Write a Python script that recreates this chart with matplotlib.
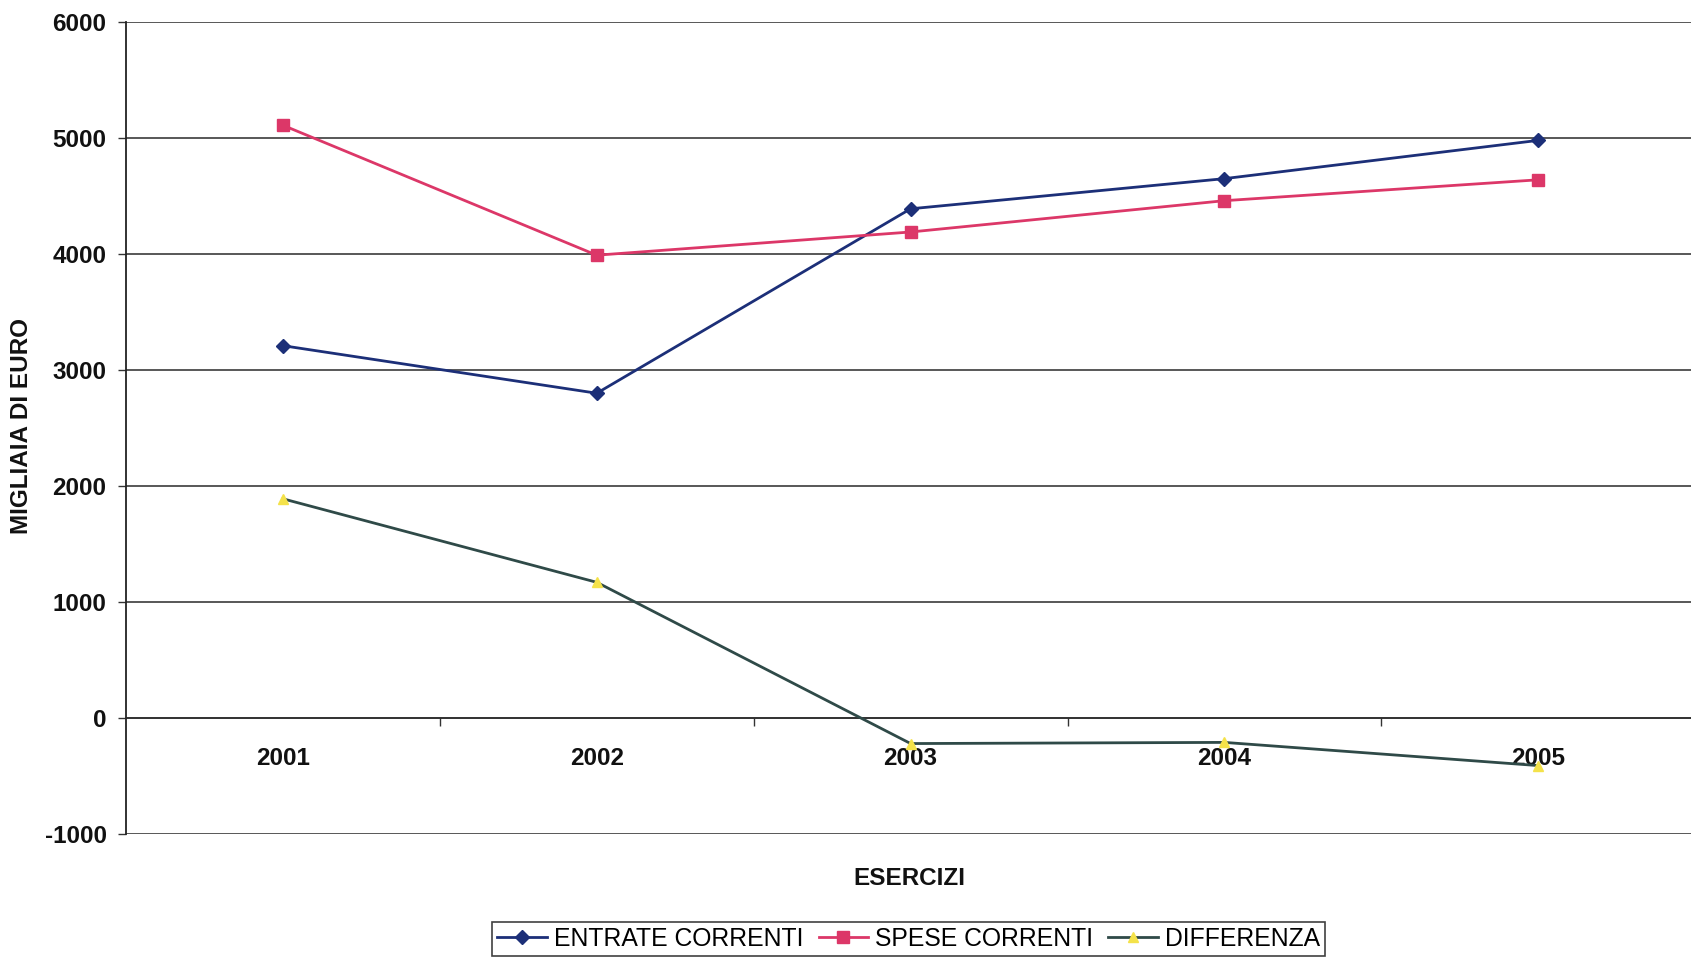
import matplotlib
matplotlib.use('Agg')
import matplotlib.pyplot as plt
from matplotlib.ticker import FixedLocator

plt.rcParams['font.family'] = ['Liberation Sans', 'DejaVu Sans']
plt.rcParams['axes.unicode_minus'] = False

anni = ['2001', '2002', '2003', '2004', '2005']
entrate = [3210, 2800, 4390, 4650, 4980]
spese = [5110, 3990, 4190, 4460, 4640]
differenza = [1890, 1170, -220, -210, -410]
yticks = [-1000, 0, 1000, 2000, 3000, 4000, 5000, 6000]

fig = plt.figure(figsize=(16.91, 9.58), dpi=100)
ax = fig.add_axes([0.0745, 0.1294, 0.928, 0.8476])

x = list(range(1, len(anni) + 1))
ax.plot(x, entrate, color='#1c2f78', lw=2.0, marker='D', ms=7.5,
        label='ENTRATE CORRENTI', zorder=3)
ax.plot(x, spese, color='#dc3768', lw=2.0, marker='s', ms=9,
        label='SPESE CORRENTI', zorder=3)
ax.plot(x, differenza, color='#2f4a48', lw=2.0, marker='^', ms=7.5,
        mfc='#f4e24a', mec='#f4e24a', label='DIFFERENZA', zorder=3)

ax.set_xlim(0.5, len(anni) + 0.5)
ax.set_ylim(-1000, 6000)

# horizontal gridlines, category axis sits on the zero line
ax.set_yticks(yticks)
ax.yaxis.grid(True, color='#2a2a2a', lw=1.1)
ax.set_axisbelow(True)
for s in ['top', 'right']:
    ax.spines[s].set_visible(False)
ax.spines['left'].set_color('#222222')
ax.spines['left'].set_linewidth(1.3)
ax.spines['bottom'].set_position(('data', 0))
ax.spines['bottom'].set_color('#2a2a2a')
ax.spines['bottom'].set_linewidth(1.1)

ax.set_xticks(x)
ax.set_xticklabels(anni)
ax.xaxis.set_minor_locator(FixedLocator([i + 0.5 for i in x[:-1]]))
ax.tick_params(axis='x', which='major', length=0, pad=21,
               labelsize=17.5, labelcolor='#111111')
ax.tick_params(axis='x', which='minor', length=6, width=1, color='#333333',
               direction='out')
ax.tick_params(axis='y', length=6, width=1, color='#333333', pad=8,
               labelsize=17.5, labelcolor='#111111')
for lab in ax.get_xticklabels() + ax.get_yticklabels():
    lab.set_fontweight('bold')

fig.text(0.0128, 0.555, 'MIGLIAIA DI EURO', rotation=90, ha='center',
         va='center', fontsize=17.5, fontweight='bold', color='#111111')
fig.text(0.5375, 0.0825, 'ESERCIZI', ha='center', va='center',
         fontsize=17.5, fontweight='bold', color='#111111')

leg = fig.legend(loc='lower center', bbox_to_anchor=(0.5375, 0.002), ncol=3,
                 fontsize=17.8, frameon=True, fancybox=False, edgecolor='#111111',
                 handlelength=2.0, handletextpad=0.3, columnspacing=0.6,
                 borderpad=0.2, borderaxespad=0)
leg.get_frame().set_linewidth(1.2)

fig.savefig('out.png', dpi=100, facecolor='white')
